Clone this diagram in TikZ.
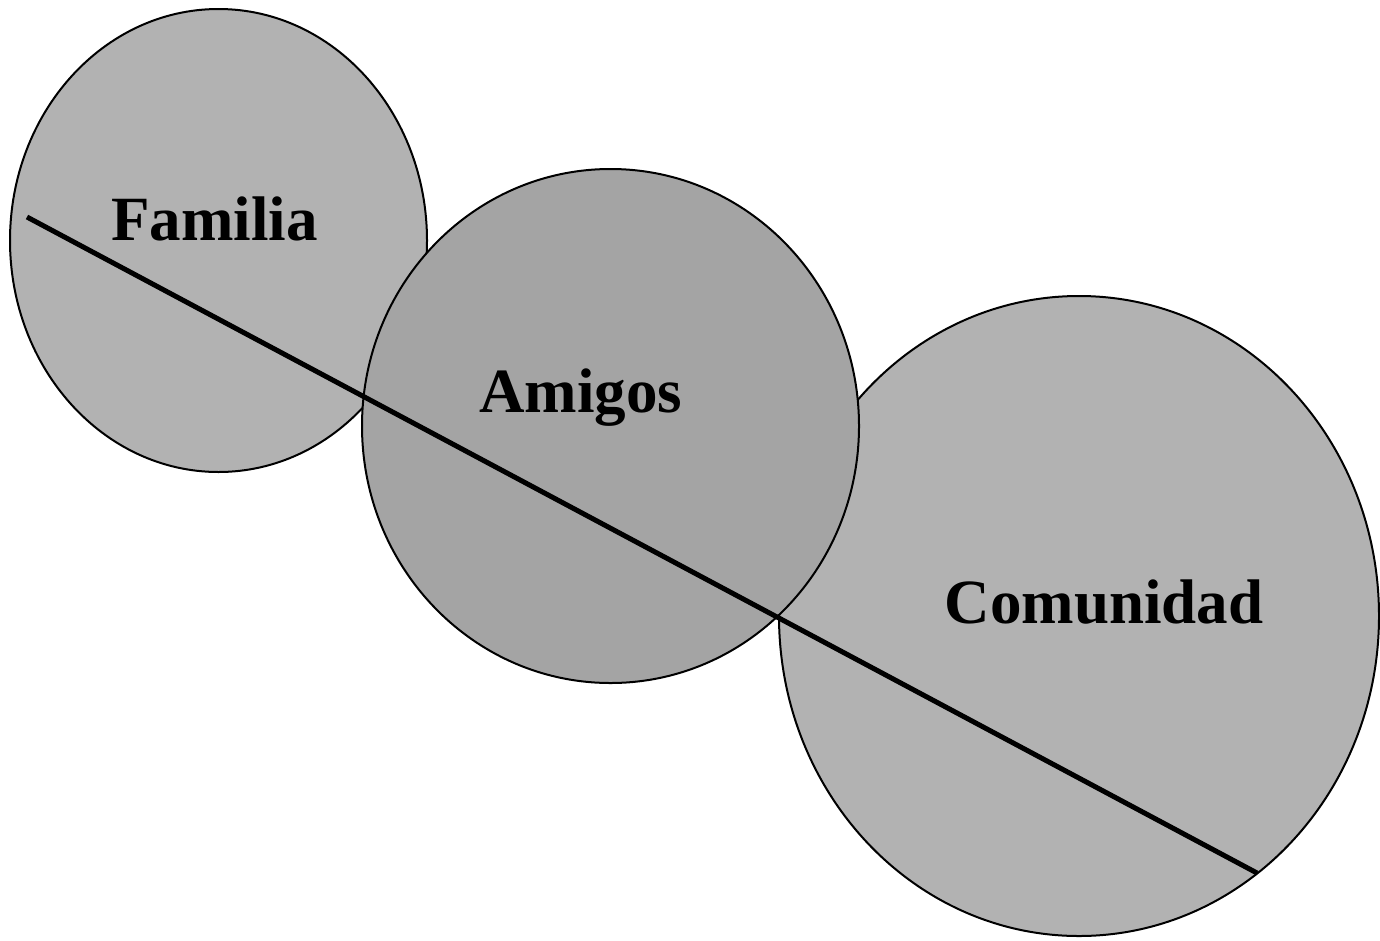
\documentclass[tikz,border=0pt]{standalone}
\usepackage{fontspec}
\setmainfont{Liberation Serif}
\usepackage{tikz}
\usetikzlibrary{positioning}

\definecolor{circlegray}{HTML}{B2B2B2}
\definecolor{midgray}{HTML}{A4A4A4}

\begin{document}
\begin{tikzpicture}[
		x=1pt, y=-1pt, % pixel-like units
		circlebox/.style={draw=black, line width=2pt, fill=circlegray},
		every node/.style={font=\bfseries\fontsize{63}{70}\selectfont, anchor=base, inner sep=0pt}
	]

	\useasboundingbox (0,0) rectangle (1380,940);

	% Circles
	\draw[circlebox] (218.5,240.5) ellipse [x radius=208.5, y radius=231.5];
	\draw[circlebox] (1079,616) ellipse [x radius=300, y radius=320];
	\draw[circlebox, fill=midgray] (610.5,426) ellipse [x radius=248.5, y radius=257];

	% Line across the circles
	\coordinate (start) at (27,217);
	\coordinate (stop) at (1257,873);
	\draw[line width=5pt] (start) -- (stop);

	% Labels
	\node (familia) at (214.5,240) {Familia};
	\node (amigos) at (581,412) {Amigos};
	\node (comunidad) at (1104,623) {Comunidad};

\end{tikzpicture}
\end{document}
